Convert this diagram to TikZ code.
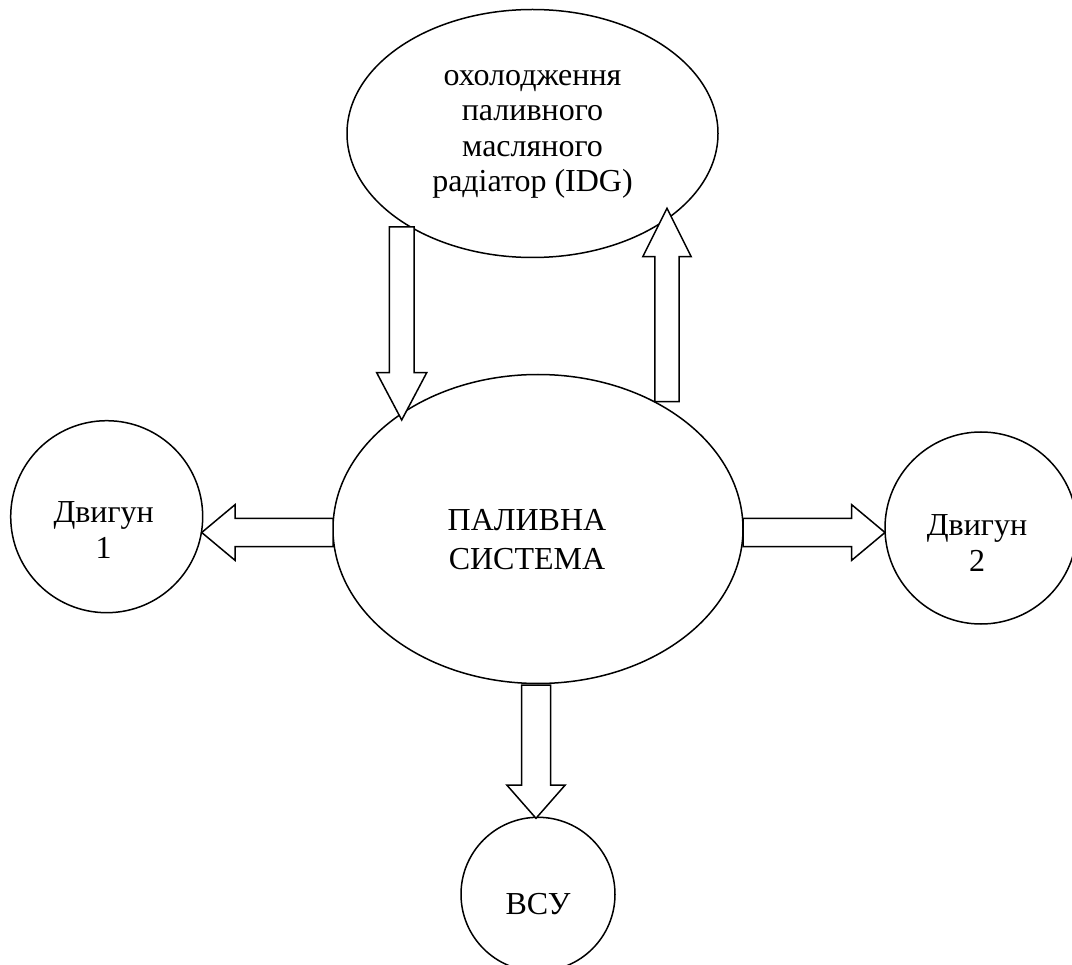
\documentclass[tikz,border=0pt]{standalone}
\usepackage{fontspec}
\setmainfont{Liberation Serif}
\usetikzlibrary{shapes.geometric,calc}
\newcommand\shifttext[3]{\kern#1\raisebox{-#2}[\height][\depth]{#3}\kern-#1}
\newcommand\blockarrow[5]{%
  \draw[blk] let \p1=(#1),\p2=(#2),\n1={atan2(\y2-\y1,\x2-\x1)} in
   ($(\p1)+(\n1+90:#3)$) -- ($(\p2)+(\n1+180:#5)+(\n1+90:#3)$)
   -- ($(\p2)+(\n1+180:#5)+(\n1+90:#4)$) -- (\p2)
   -- ($(\p2)+(\n1+180:#5)+(\n1-90:#4)$) -- ($(\p2)+(\n1+180:#5)+(\n1-90:#3)$)
   -- ($(\p1)+(\n1-90:#3)$) -- cycle;}
\tikzset{
  shp/.style={draw=black, line width=1.5pt, inner sep=0pt, outer sep=0pt, align=center},
  blk/.style={draw=black, fill=white, line width=1.5pt, line join=miter},
  txt/.style={font=\fontsize{32}{#1}\selectfont}
}
\begin{document}
\begin{tikzpicture}[x=1pt,y=-1pt]
\useasboundingbox (0,0) rectangle (1072,965);
% nodes
\node[shp, ellipse, minimum width=371pt, minimum height=248pt, txt=35.5] (cool) at (532.5,133.5)
  {\shifttext{0pt}{-2pt}{\begin{tabular}{@{}c@{}}охолодження\\паливного\\масляного\\радіатор (IDG)\end{tabular}}};
\node[shp, ellipse, minimum width=410pt, minimum height=309pt, txt=39] (fuel) at (538,529)
  {\shifttext{-11pt}{13.5pt}{\begin{tabular}{@{}c@{}}ПАЛИВНА\\СИСТЕМА\end{tabular}}};
\node[shp, circle, minimum size=192pt, txt=36] (eng1) at (106.7,516.7)
  {\shifttext{-3pt}{17pt}{\begin{tabular}{@{}c@{}}Двигун\\1\end{tabular}}};
\node[shp, circle, minimum size=192pt, txt=36] (eng2) at (981,528)
  {\shifttext{-4pt}{18pt}{\begin{tabular}{@{}c@{}}Двигун\\2\end{tabular}}};
\node[shp, circle, minimum size=154pt, txt=36] (apu) at (538,894.3)
  {\shifttext{0pt}{13pt}{\begin{tabular}{@{}c@{}}ВСУ\end{tabular}}};
% arrow end points
\coordinate (downS) at (401.7,227);
\coordinate (downT) at (401.7,420);
\coordinate (upS) at (667,401.7);
\coordinate (upT) at (667,208.3);
\coordinate (leftS) at (fuel.west |- 0,532.5);
\coordinate (leftT) at (201.7,532.5);
\coordinate (rightS) at (fuel.east |- 0,532.5);
\coordinate (rightT) at (885,532.5);
\coordinate (botS) at (536,685);
\coordinate (botT) at (536,818.3);
% block arrows
\blockarrow{downS}{downT}{12.3pt}{25pt}{47.3pt}
\blockarrow{upS}{upT}{12.2pt}{24.2pt}{48.4pt}
\blockarrow{leftS}{leftT}{14.2pt}{27.8pt}{33.3pt}
\blockarrow{rightS}{rightT}{14.2pt}{27.8pt}{33.3pt}
\blockarrow{botS}{botT}{14.5pt}{29.2pt}{33.3pt}
\end{tikzpicture}
\end{document}
